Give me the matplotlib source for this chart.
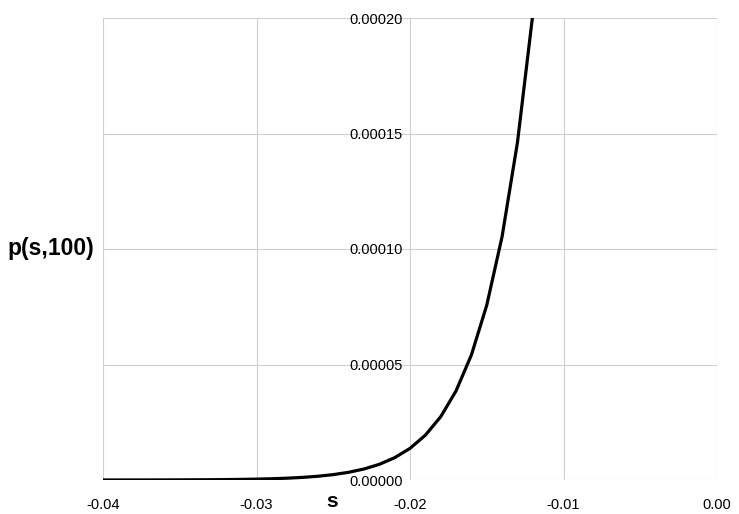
import matplotlib
matplotlib.use("Agg")
import matplotlib.pyplot as plt

plt.rcParams['font.family'] = ['Liberation Sans', 'DejaVu Sans']

# s values and p(s,100)
s_values = [-0.040, -0.039, -0.038, -0.037, -0.036, -0.035, -0.034, -0.033,
            -0.032, -0.031, -0.030, -0.029, -0.028, -0.027, -0.026, -0.025,
            -0.024, -0.023, -0.022, -0.021, -0.020, -0.019, -0.018, -0.017,
            -0.016, -0.015, -0.014, -0.013, -0.012, -0.011]
p_values = [9.4e-9, 1.36e-8, 1.98e-8, 2.87e-8, 4.16e-8, 6.03e-8, 8.73e-8, 1.26e-7,
            1.82e-7, 2.63e-7, 3.80e-7, 5.47e-7, 7.88e-7, 1.13e-6, 1.62e-6, 2.33e-6,
            3.33e-6, 4.76e-6, 6.78e-6, 9.65e-6, 1.369e-5, 1.939e-5, 2.739e-5, 3.857e-5,
            5.413e-5, 7.567e-5, 1.054e-4, 1.461e-4, 2.016e-4, 2.766e-4]

x_ticks = [-0.04, -0.03, -0.02, -0.01, 0.00]
x_tick_labels = ['-0.04', '-0.03', '-0.02', '-0.01', '0.00']
y_ticks = [0.0, 0.00005, 0.0001, 0.00015, 0.0002]
y_tick_labels = ['0.00000', '0.00005', '0.00010', '0.00015', '0.00020']

fig = plt.figure(figsize=(7.39, 5.14), dpi=100)
ax = fig.add_axes([103 / 739, 34 / 514, 614 / 739, 462 / 514])

ax.plot(s_values, p_values, color='black', linewidth=2.3, solid_joinstyle='round')

ax.set_xlim(-0.04, 0.0)
ax.set_ylim(0, 0.0002)
ax.set_xticks(x_ticks)
ax.set_xticklabels(x_tick_labels)
ax.set_yticks(y_ticks)
ax.set_yticklabels(y_tick_labels)

ax.grid(True, color='#d0d0d0', linewidth=0.8)
ax.set_axisbelow(True)
for side in ['top', 'right', 'bottom']:
    ax.spines[side].set_visible(False)
ax.spines['left'].set_position(('data', -0.02))
ax.spines['left'].set_visible(False)

ax.tick_params(axis='both', length=0, labelsize=10.5, colors='black')
ax.tick_params(axis='x', pad=13)
ax.tick_params(axis='y', pad=5)

ax.text(-0.02505, -0.0000092, 's', fontsize=15, fontweight='bold',
        ha='center', va='center')
fig.text(51 / 739, 1 - 249 / 514, 'p(s,100)', fontsize=16.5, fontweight='bold',
         ha='center', va='center')

fig.savefig('out.png', dpi=100)
